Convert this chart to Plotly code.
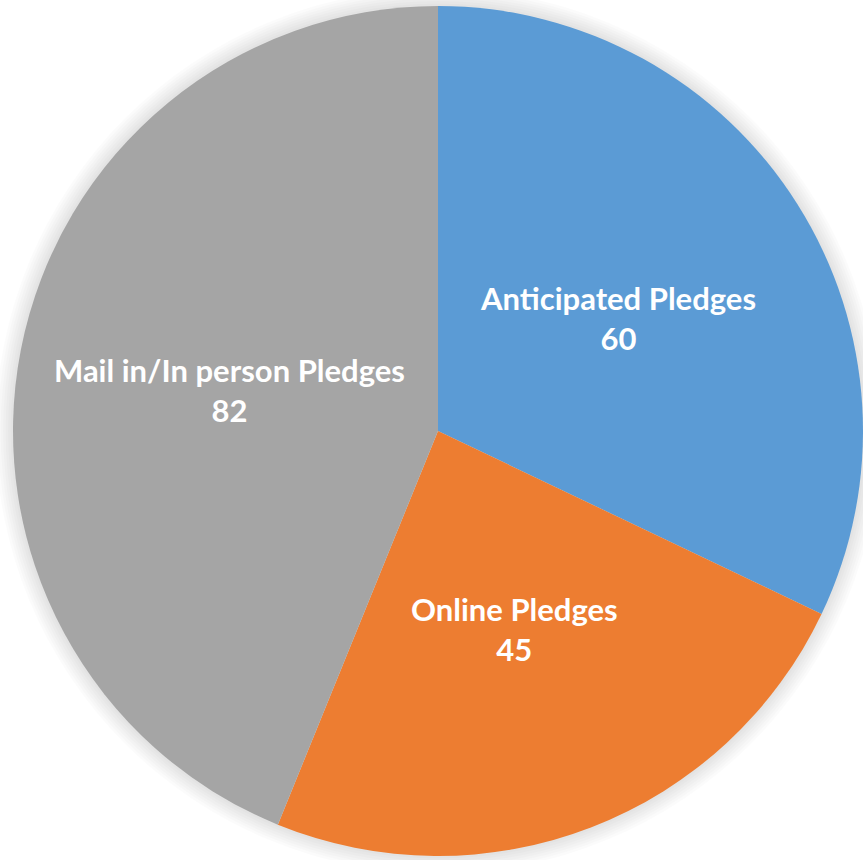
import math
import plotly.graph_objects as go

categories = ["Anticipated Pledges", "Online Pledges", "Mail in/In person Pledges"]
values = [60, 45, 82]
colors = ["#5b9bd5", "#ed7d31", "#a5a5a5"]

W, H = 863, 860
dom_x = [13 / W, 1.0]
dom_y = [4 / H, 854 / H]

fig = go.Figure(go.Pie(
    labels=categories,
    values=values,
    sort=False,
    direction="clockwise",
    rotation=0,
    marker=dict(colors=colors, line=dict(width=0)),
    textinfo="none",
    domain=dict(x=dom_x, y=dom_y),
    hoverinfo="skip",
    showlegend=False,
))

# pie geometry (pixels) derived from the domain
cx = (dom_x[0] + dom_x[1]) / 2 * W
cy = (dom_y[0] + dom_y[1]) / 2 * H
r = min((dom_x[1] - dom_x[0]) * W, (dom_y[1] - dom_y[0]) * H) / 2

# soft shadow halo
shapes = []
for k in range(1, 8):
    rr = r + 2.5 * k
    shapes.append(dict(
        type="circle", xref="paper", yref="paper", layer="below",
        x0=(cx - rr) / W, x1=(cx + rr) / W, y0=(cy - rr) / H, y1=(cy + rr) / H,
        fillcolor="rgba(0,0,0,0.016)", line=dict(width=0),
    ))

# data labels at half radius along each slice's mid-angle
total = sum(values)
annotations = []
acc = 0
for lab, v in zip(categories, values):
    mid = (acc + v / 2) / total * 2 * math.pi
    acc += v
    px = cx + 0.5 * r * math.sin(mid)
    py = cy + 0.5 * r * math.cos(mid)
    annotations.append(dict(
        x=px / W, y=py / H, xref="paper", yref="paper",
        xanchor="center", yanchor="middle", showarrow=False,
        text=f"{lab}<br>{v}", align="center",
        font=dict(family="Lato", size=31, color="white", weight="bold"),
    ))

fig.update_layout(
    width=W, height=H,
    margin=dict(l=0, r=0, t=0, b=0),
    paper_bgcolor="white",
    plot_bgcolor="white",
    shapes=shapes,
    annotations=annotations,
)

fig.write_html(
    "out.html",
    config={"displayModeBar": False, "staticPlot": True},
    post_script="document.body.style.margin='0';document.body.style.overflow='hidden';",
)
